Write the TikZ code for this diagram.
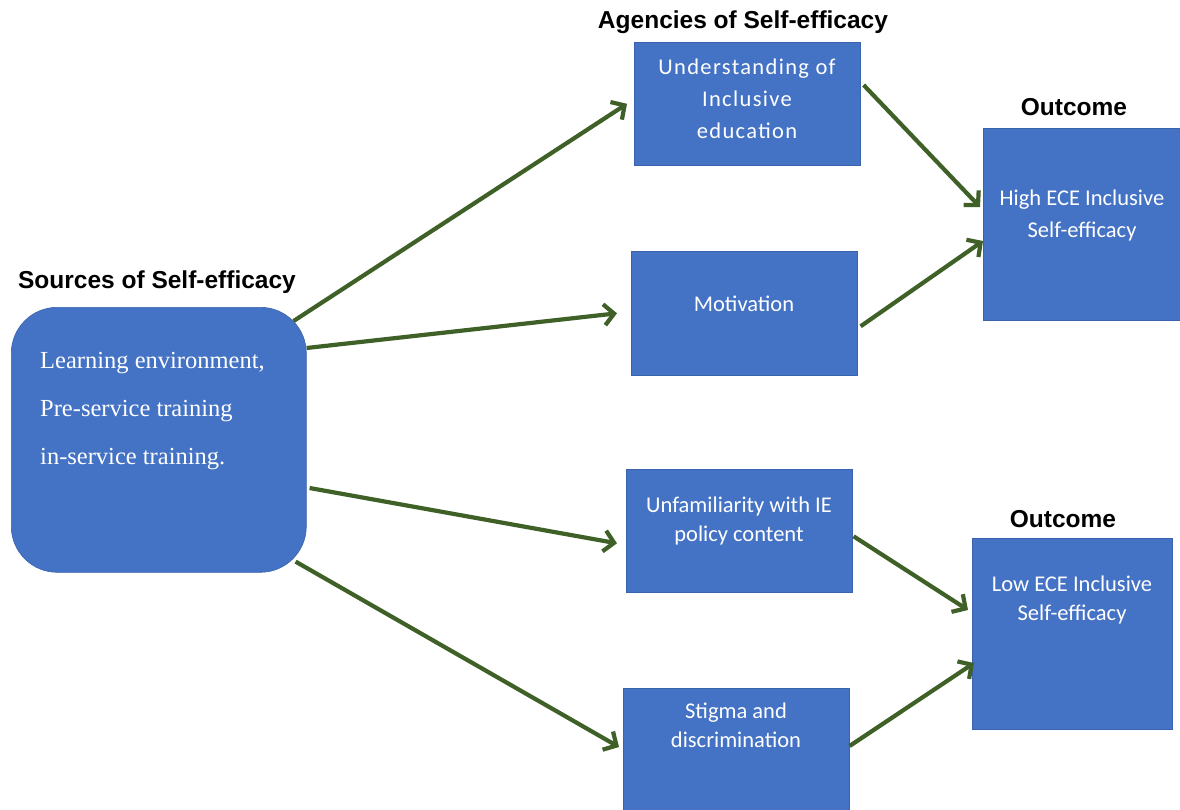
\documentclass[tikz,border=0pt]{standalone}
\usepackage{fontspec}
\setmainfont{Liberation Serif}
\newfontfamily\boxfont{Carlito}
\newfontfamily\headfont{Liberation Sans}
\usetikzlibrary{arrows.meta}
\definecolor{boxblue}{HTML}{4472C4}
\definecolor{boxedge}{HTML}{3A63AE}
\definecolor{arrgreen}{HTML}{3F6127}
\tikzset{
  bluebox/.style={fill=boxblue, draw=boxedge, line width=0.6pt, inner sep=0pt, anchor=north west},
  boxtext/.style={font=\boxfont\fontsize{22.5}{29}\selectfont, text=white, align=center, inner sep=0pt},
  headtext/.style={font=\headfont\bfseries\fontsize{24.5}{28}\selectfont, text=black, inner sep=0pt},
  srctext/.style={font=\fontsize{24.5}{48}\selectfont, text=white, align=left, inner sep=0pt, anchor=north west},
  link/.style={draw=arrgreen, line width=4.2pt, -{Straight Barb[length=10pt,width=21pt,line width=4.2pt]}},
}
\begin{document}
\begin{tikzpicture}[x=1pt,y=-1pt]
\useasboundingbox (0,0) rectangle (1180,809);
\clip (0,0) rectangle (1180,809);
\fill[white] (0,0) rectangle (1180,809);

% headings
\node[headtext] (hsrc) at (157,282) {Sources of Self-efficacy};
\node[headtext] (hag) at (743,22) {Agencies of Self-efficacy};
\node[headtext] (hout1) at (1074,107) {Outcome};
\node[headtext] (hout2) at (1063,519) {Outcome};

% sources box
\node[bluebox, rounded corners=46pt, minimum width=295pt, minimum height=265pt] (src) at (11,307) {};
\node[srctext] (srct) at (40,352) {Learning environment,\\Pre-service training\\in-service training.};

% agencies
\node[bluebox, minimum width=226pt, minimum height=123pt] (und) at (634,42) {};
\node[boxtext, font=\boxfont\fontsize{22.5}{32}\selectfont\addfontfeature{LetterSpace=6}] (undt) at (747,99) {Understanding of\\Inclusive\\education};
\node[bluebox, minimum width=226pt, minimum height=124pt] (mot) at (631,251) {};
\node[boxtext] (mott) at (744,304) {Motivation};
\node[bluebox, minimum width=226pt, minimum height=123pt] (unf) at (626,469) {};
\node[boxtext] (unft) at (739,521) {Unfamiliarity with IE\\policy content};
\node[bluebox, minimum width=226pt, minimum height=150pt] (stig) at (623,688) {};
\node[boxtext] (stigt) at (736,725) {Stigma and\\discrimination};

% outcomes
\node[bluebox, minimum width=197pt, minimum height=192pt] (high) at (983,128) {};
\node[boxtext, font=\boxfont\fontsize{22.5}{32}\selectfont] (hight) at (1082,215) {High ECE Inclusive\\Self-efficacy};
\node[bluebox, minimum width=200pt, minimum height=191pt] (low) at (972,538) {};
\node[boxtext] (lowt) at (1072,600) {Low ECE Inclusive\\Self-efficacy};

% connectors
\draw[link] ([xshift=-13pt,yshift=-14pt]src.north east) -- ([xshift=-7pt]und.west);
\draw[link] ([yshift=-41pt]src.north east) -- ([xshift=-14pt]mot.west);
\draw[link] ([xshift=3pt,yshift=-181pt]src.north east) -- ([xshift=-9pt,yshift=-12.5pt]unf.west);
\draw[link] ([xshift=-11pt,yshift=11pt]src.south east) -- ([xshift=-4pt,yshift=-59pt]stig.north west);
\draw[link] ([xshift=3pt,yshift=-43pt]und.north east) -- ([xshift=-3pt,yshift=-79pt]high.north west);
\draw[link] ([xshift=3pt,yshift=-13pt]mot.east) -- ([yshift=-113pt]high.north west);
\draw[link] ([xshift=1pt,yshift=-5.5pt]unf.east) -- ([xshift=-4pt,yshift=-72pt]low.north west);
\draw[link] ([yshift=-58pt]stig.north east) -- ([xshift=2pt,yshift=-125pt]low.north west);
\end{tikzpicture}
\end{document}
